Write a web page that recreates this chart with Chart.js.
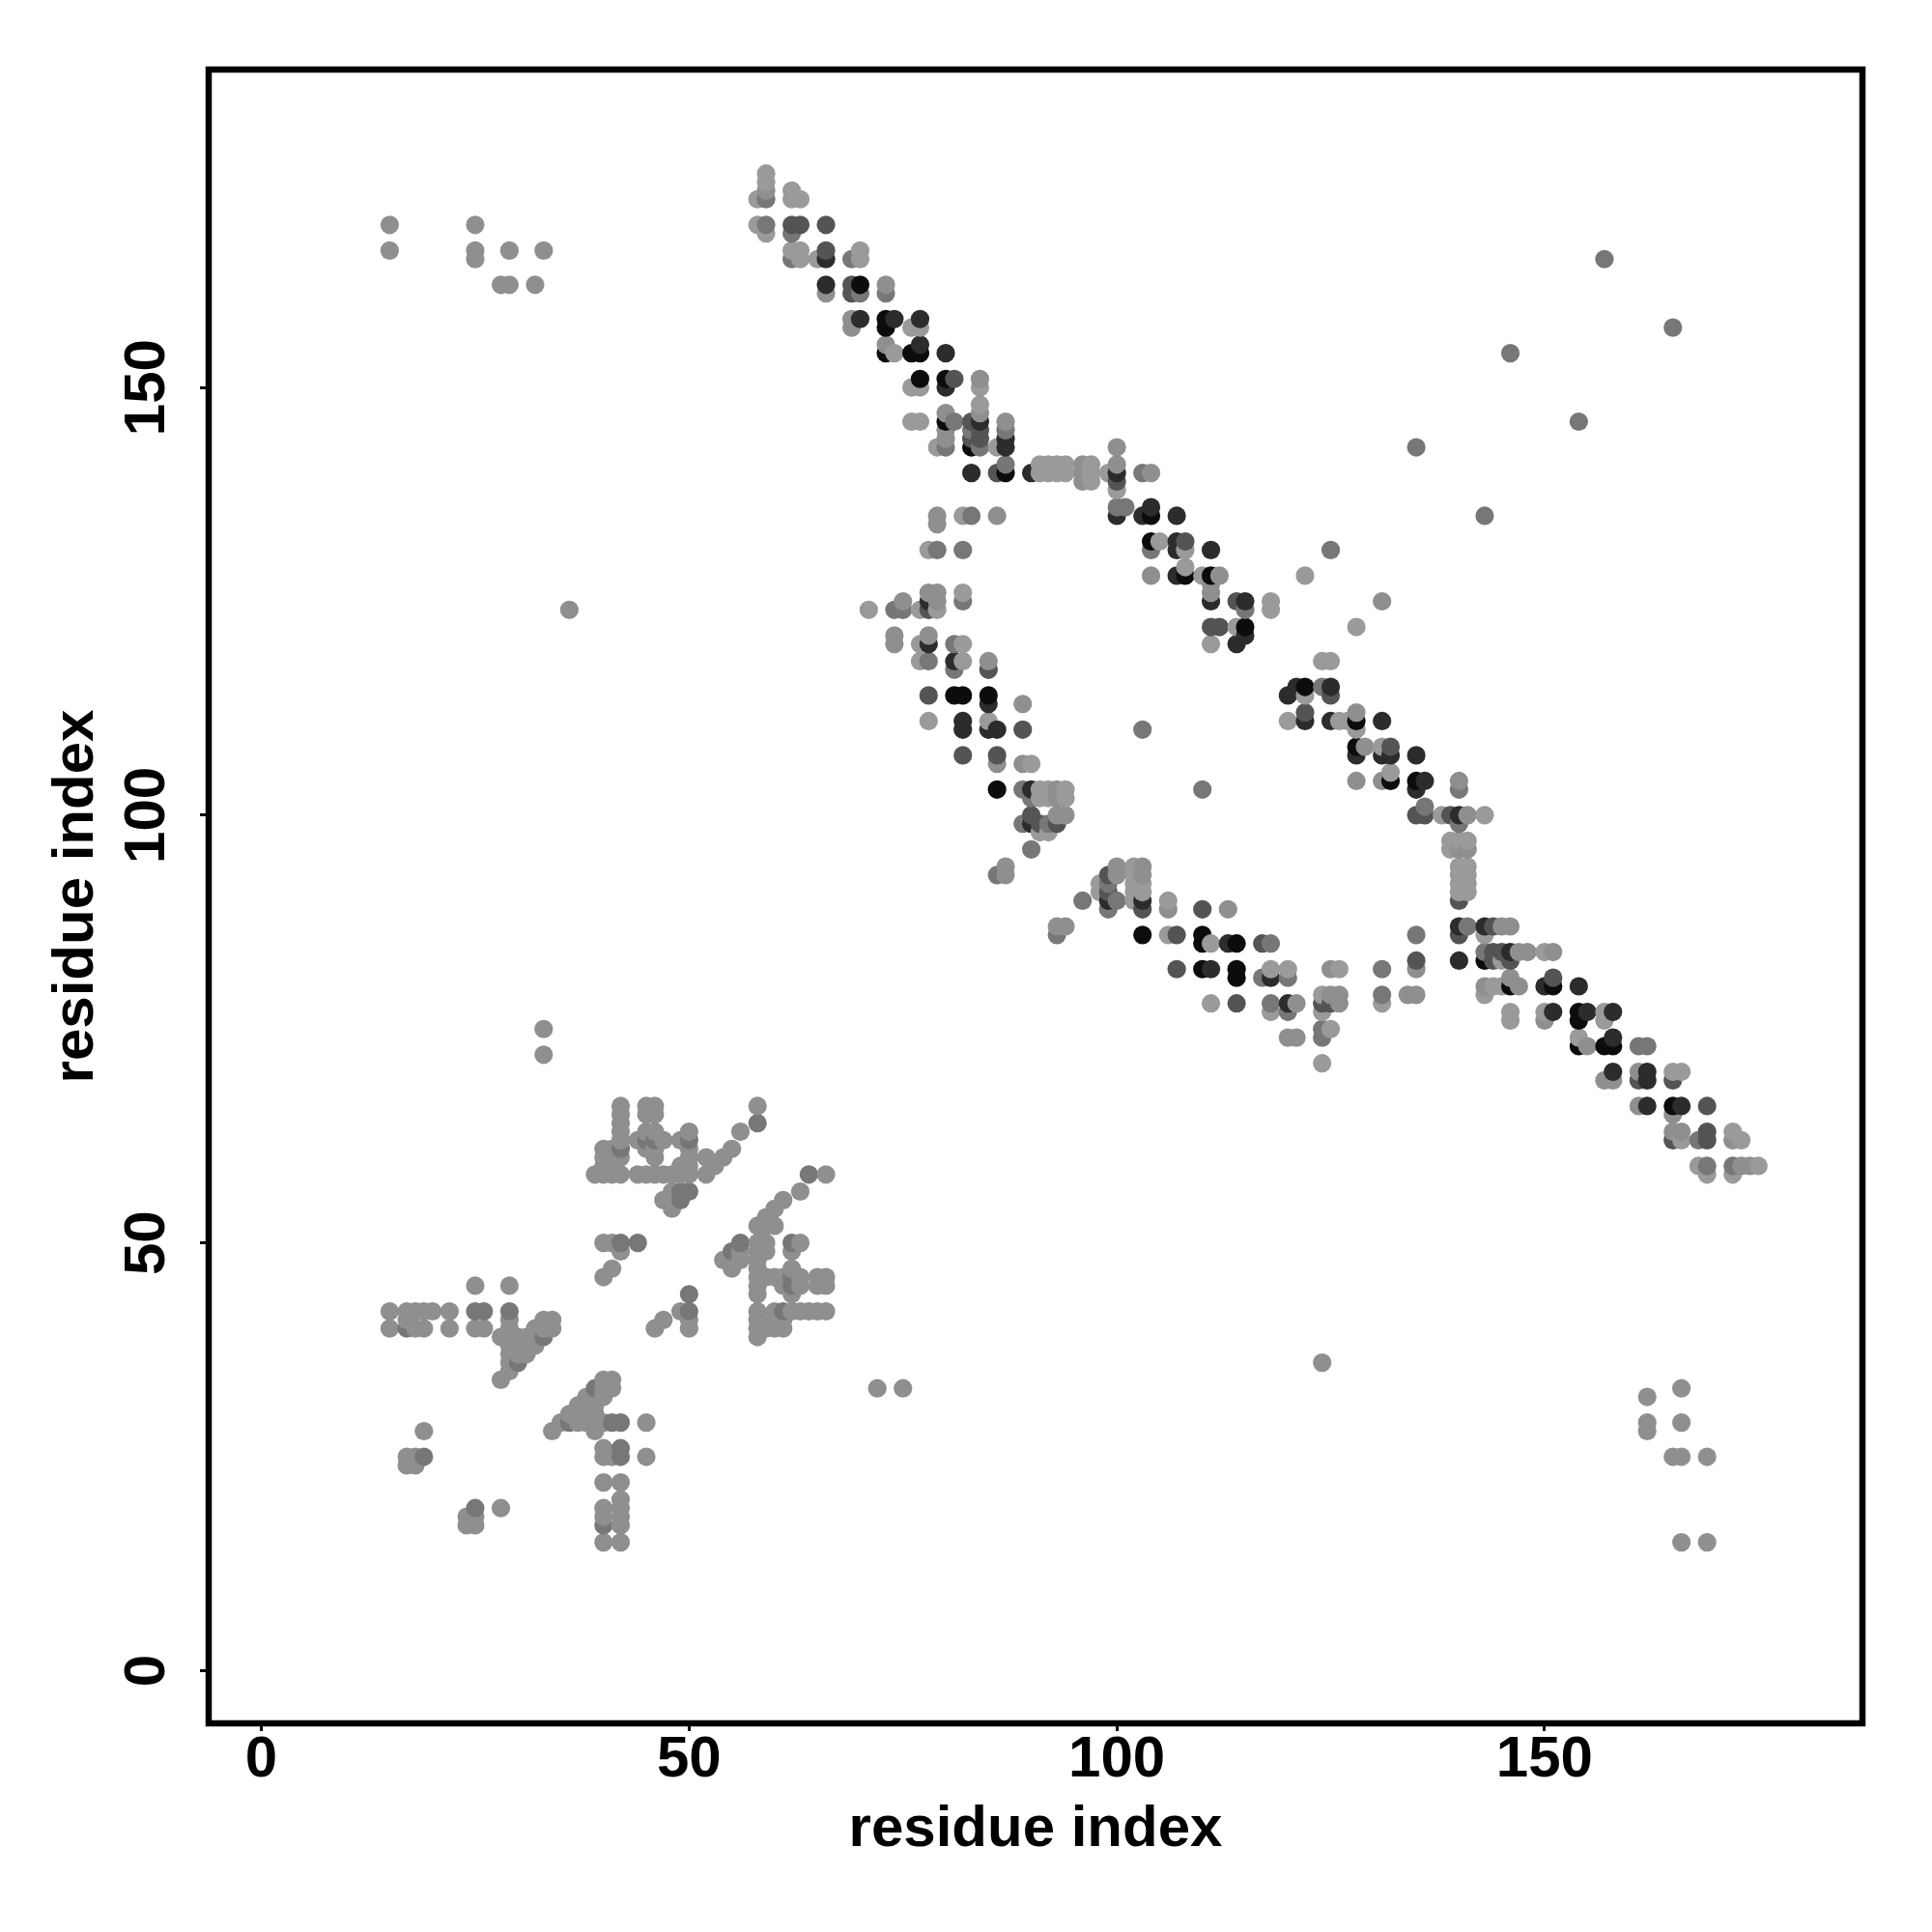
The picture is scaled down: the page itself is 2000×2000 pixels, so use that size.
<!DOCTYPE html>
<html>
<head>
<meta charset="utf-8">
<title>residue contacts</title>
<script src="https://cdn.jsdelivr.net/npm/chart.js@4/dist/chart.umd.min.js"></script>
<style>
  html, body { margin: 0; padding: 0; background: #fff; }
  canvas { display: block; }
</style>
</head>
<body>
<canvas id="canvas" width="2000" height="2000"></canvas>
<script>
const tickValues = [0, 50, 100, 150]
const axisLabel = "residue index"

// contacts as [residue, residue], one list per score band, weakest first
const band1 = [
  [59,175],[59,174],[58,172],[58,169],[59,168],[62,173],[62,172],[63,172],[62,166],[63,166],[63,165],[65,165],[70,166],[70,165],
  [76,157],[77,157],[74,154],[76,150],[77,150],[84,150],[84,148],[76,146],[77,146],[79,143],[86,143],
  [91,141],[92,141],[93,141],[94,141],[97,141],[91,140],[92,140],[93,140],[94,140],[97,140],[97,139],[99,140],[100,138],
  [82,135],[105,132],[108,131],[78,131],[108,129],[110,128],[118,125],[118,124],[114,122],[111,120],[122,128],[128,122],
  [82,126],[71,124],[77,124],[79,124],[77,120],[82,120],[77,118],[82,118],[78,111],[85,111],[90,106],
  [91,103],[92,103],[94,103],[91,102],[92,102],[94,102],[91,98],[92,98],
  [102,94],[102,93],[98,92],[102,92],[103,92],[98,91],[102,91],[103,91],[102,90],[106,90],[106,86],[111,85],
  [118,82],[120,82],[126,82],[111,78],[118,77],[124,79],[124,77],[131,78],[125,75],[124,71],
  [124,118],[125,118],[122,114],[120,111],[126,111],[127,111],[128,110],[131,108],[132,105],[138,100],[143,100],
  [139,97],[140,97],[141,97],[139,96],[140,94],[141,94],[140,93],[141,93],[140,92],[141,92],[140,91],[141,91],
  [143,86],[150,84],[145,83],[144,80],[145,80],[143,79],[146,77],[150,77],[157,77],[146,76],[157,76],[154,74],
  [165,70],[166,70],[172,63],[166,62],[173,62],[168,59],[175,59],[169,58],[172,58]
]
const band2 = [
  // lower left block
  [15,42],[17,42],[18,42],[19,42],[20,42],[22,42],[17,41],[29,41],[33,41],[34,41],[15,40],[18,40],[19,40],[22,40],[25,40],[26,40],[29,40],[32,40],[33,40],[34,40],
  [28,39],[29,39],[30,39],[31,39],[32,39],[29,38],[30,38],[31,38],[32,38],[29,37],[30,37],[31,37],[29,36],[29,35],[25,45],[29,45],
  [40,34],[41,34],[28,34],[40,33],[41,33],[38,32],[39,32],[40,32],[37,31],[38,31],[39,31],[36,30],[37,30],[38,30],[39,30],
  [35,29],[37,29],[38,29],[39,29],[40,29],[45,29],[34,28],[39,28],[19,28],[40,26],[40,25],[41,25],[45,25],[17,25],[18,25],[17,24],[18,24],
  [40,22],[42,22],[42,20],[40,19],[42,19],[28,19],[24,18],[25,18],[40,18],[42,18],[24,17],[25,17],[42,17],[40,15],[42,15],
  [42,66],[45,66],[46,66],[58,66],[42,65],[45,65],[46,65],[42,64],[42,63],[45,63],[46,63],[50,63],[56,63],[42,62],[44,62],[47,62],[49,62],
  [40,61],[41,61],[45,61],[46,61],[50,61],[55,61],[40,60],[41,60],[42,60],[46,60],[50,60],[52,60],[54,60],[40,59],[50,59],[49,59],[53,59],
  [39,58],[40,58],[41,58],[42,58],[44,58],[45,58],[46,58],[47,58],[48,58],[49,58],[50,58],[52,58],[66,58],
  [48,56],[63,56],[47,55],[48,55],[61,55],[48,54],[60,54],[59,53],[58,52],[59,52],[60,52],
  [40,50],[41,50],[58,50],[59,50],[63,50],[42,49],[56,49],[58,49],[59,49],[62,49],[54,48],[55,48],[56,48],[58,48],[41,47],[55,47],[58,47],[62,47],
  [40,46],[58,46],[59,46],[60,46],[61,46],[63,46],[65,46],[66,46],[58,45],[61,45],[63,45],[65,45],[66,45],[58,44],[62,44],
  [49,42],[58,42],[60,42],[62,42],[63,42],[64,42],[65,42],[66,42],[47,41],[50,41],[58,41],[60,41],[61,41],[46,40],[50,40],[58,40],[59,40],[60,40],[61,40],[58,39],
  // scattered contacts
  [15,169],[15,166],[25,169],[25,166],[25,165],[29,166],[33,166],[28,162],[29,162],[32,162],[33,75],[33,72],[36,124],[124,36],[72,33],[75,33],
  [162,32],[162,29],[162,28],[166,33],[166,29],[165,25],[166,25],[169,25],[166,15],[169,15],
  // main band
  [59,173],[73,162],[66,161],[69,158],[69,157],[73,155],[84,151],[80,147],[84,147],[87,146],[80,145],[80,144],
  [96,141],[96,140],[96,139],[100,143],[100,141],[104,140],[79,135],[86,135],[79,134],[104,128],[112,128],[111,127],[111,126],
  [78,126],[79,126],[75,125],[79,125],[74,121],[74,120],[78,121],[85,118],[89,113],[86,106],[89,106],[93,103],[93,102],[93,100],[94,100],
  [87,94],[87,93],[100,94],[103,94],[100,93],[103,93],[106,89],[113,89],[93,87],[94,87],[125,82],[135,82],[121,78],[125,79],[126,79],[126,78],[134,79],[135,79],[120,74],[121,74],
  [128,112],[129,108],[128,104],[131,104],[140,104],[141,100],[140,96],[141,96],[145,87],[146,87],[147,84],[148,84],[151,84],[146,81],[143,80],[147,80],
  [150,76],[155,73],[161,70],[157,69],[158,69],[161,66],[165,65],[165,63],[166,63],[172,62],[173,59],[174,59],[131,125]
]
const band3 = [
  [25,42],[26,42],[29,42],[17,40],[33,39],[30,36],[39,33],[36,29],[41,29],[42,29],[42,26],[42,25],[19,25],[25,19],[40,17],[58,64],[42,61],[45,62],[46,62],[50,62],
  [64,58],[49,56],[50,56],[49,55],[42,50],[44,50],[56,50],[62,50],[55,49],[62,46],[62,45],[50,44],[50,42],[61,42],
  [157,165],[165,157],[146,154],[154,146],[135,143],[143,135],[125,131],[110,103],[103,110],
  [59,172],[59,169],[62,168],[62,165],[69,165],[70,161],[73,161],[81,146],[83,145],[87,145],[80,143],[84,143],[87,141],[103,140],[100,136],[101,136],
  [83,135],[104,131],[79,131],[82,131],[82,125],[115,124],[74,124],[75,124],[81,120],[78,118],[81,117],[89,103],[90,102],[89,99],[92,99],[90,96],[86,93],
  [99,92],[96,90],[100,90],[99,89],[93,86],[118,85],[117,81],[120,81],[131,82],[135,86],[118,78],[120,77],[131,79],[124,75],[124,74],
  [124,115],[140,103],[136,101],[140,99],[141,87],[143,84],[161,73],[162,73],[168,62],[169,59],[172,59]
]
const band4 = [
  [62,169],[63,169],[66,169],[66,166],[69,162],[69,161],[81,151],[83,146],[84,145],[83,144],[84,144],[86,140],[100,139],[108,132],
  [114,125],[111,122],[112,122],[78,124],[85,117],[78,114],[89,110],[82,107],[86,107],[90,100],[91,99],[93,99],[99,93],[99,91],[103,89],[110,89],[107,86],[117,85],
  [107,82],[135,83],[114,78],[124,78],[125,78],[125,114],[122,112],[132,108],[135,100],[136,100],[139,100],[140,90],[144,87],[140,86],
  [144,84],[145,84],[144,83],[146,83],[151,81],[161,69],[165,69],[169,66],[169,63],[165,62],[169,62]
]
const band5 = [
  [66,165],[66,162],[70,158],[74,158],[77,158],[77,155],[80,154],[80,150],[84,146],[87,144],[87,143],[83,140],[90,140],[100,140],[104,136],[100,135],[103,135],[107,135],
  [107,132],[107,131],[111,131],[107,128],[111,125],[115,125],[115,121],[114,120],[78,125],[78,120],[81,118],[85,113],[82,111],[82,110],[85,110],[86,110],
  [90,103],[90,99],[99,90],[103,90],[113,85],[111,82],[118,81],[120,78],[121,115],[125,115],[120,114],[122,111],[125,111],[131,111],[128,107],[131,107],[132,107],[135,107],
  [136,104],[135,103],[140,100],[140,87],[143,87],[146,84],[140,83],[150,80],[154,80],[151,77],[155,77],[158,77],[158,74],[158,70],[162,70],[162,69],[162,66],[166,66]
]
const band6 = [
  [70,162],[73,158],[73,157],[73,154],[76,154],[77,154],[77,151],[80,151],[80,146],[83,143],[87,140],[104,135],[104,132],[108,128],[111,128],[115,122],
  [81,114],[82,114],[85,114],[86,103],[103,86],[110,86],[110,85],[114,85],[110,82],[114,82],[114,81],[122,115],[128,111],[128,108],[132,104],[135,104],
  [143,83],[146,80],[151,80],[154,77],[154,76],[154,73],[157,73],[158,73],[165,66]
]

const bands = [band1, band2, band3, band4, band5, band6]
const bandColors = ["#9a9a9a", "#8f8f8f", "#777777", "#545454", "#2c2c2c", "#0c0c0c"]

// the contacts are painted by residue, so later residues sit on top
var contacts = []
bands.forEach(function(band, b) {
  band.forEach(function(p) {
    contacts.push({x: p[0], y: p[1], color: bandColors[b]})
  })
})
contacts.sort(function(a, b) { return a.x - b.x || a.y - b.y })

const framePlugin = {
  id: "frame",
  afterDatasetsDraw: function(chart) {
    const a = chart.chartArea
    const ctx = chart.ctx
    ctx.save()
    ctx.strokeStyle = "#000"
    ctx.lineWidth = 6.5
    ctx.strokeRect(a.left, a.top, a.right - a.left, a.bottom - a.top)
    ctx.restore()
  }
}

function setTicks(scale) {
  scale.ticks = tickValues.map(function(v) { return {value: v} })
}

const tickFont = {family: "Liberation Sans", size: 60, weight: "bold"}

new Chart(document.getElementById("canvas").getContext("2d"), {
  type: "scatter",
  data: {
    datasets: [{
      data: contacts,
      pointBackgroundColor: contacts.map(function(c) { return c.color }),
      pointBorderWidth: 0,
      pointRadius: 9.6,
      pointHoverRadius: 9.6
    }]
  },
  options: {
    responsive: false,
    devicePixelRatio: 1,
    animation: false,
    layout: {padding: {top: 72, right: 72, left: 0, bottom: 0}},
    plugins: {legend: {display: false}, tooltip: {enabled: false}},
    scales: {
      x: {
        type: "linear",
        min: -6.16,
        max: 187.16,
        afterBuildTicks: setTicks,
        afterFit: function(scale) { scale.height = 216 },
        border: {display: false},
        grid: {drawOnChartArea: false, drawTicks: true, tickLength: 8, tickWidth: 3, tickColor: "#000"},
        ticks: {color: "#000", font: tickFont, padding: -6, maxRotation: 0, autoSkip: false},
        title: {display: true, text: axisLabel, color: "#000", font: tickFont, padding: {top: 0, bottom: 70}}
      },
      y: {
        type: "linear",
        min: -6.16,
        max: 187.16,
        afterBuildTicks: setTicks,
        afterFit: function(scale) { scale.width = 216 },
        border: {display: false},
        grid: {drawOnChartArea: false, drawTicks: true, tickLength: 9, tickWidth: 3, tickColor: "#000"},
        ticks: {color: "#000", font: tickFont, padding: 3, minRotation: 90, maxRotation: 90, crossAlign: "center", autoSkip: false},
        title: {display: true, text: axisLabel, color: "#000", font: tickFont, padding: {top: 43, bottom: 0}}
      }
    }
  },
  plugins: [framePlugin]
})
</script>
</body>
</html>
